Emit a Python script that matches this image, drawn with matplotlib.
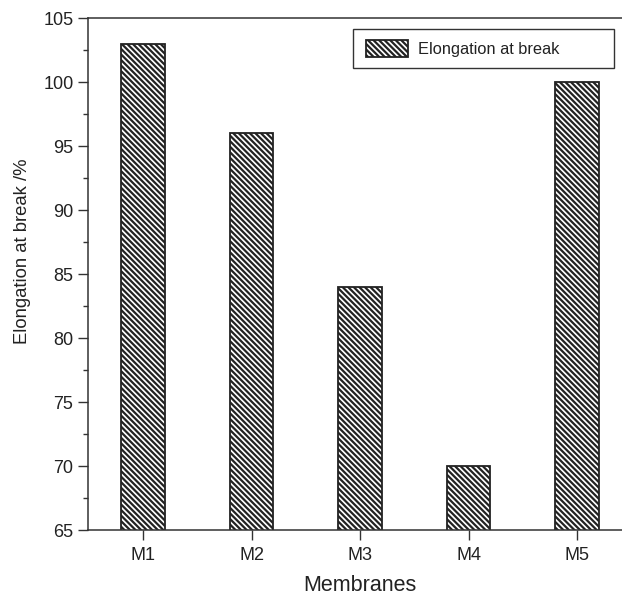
import matplotlib
matplotlib.use('Agg')
import matplotlib.pyplot as plt
from matplotlib.patches import Rectangle
from matplotlib.ticker import MultipleLocator

plt.rcParams['font.family'] = ['Liberation Sans', 'DejaVu Sans']
plt.rcParams['hatch.linewidth'] = 1.6

# Data
membranes = ['M1', 'M2', 'M3', 'M4', 'M5']
elongation = [103, 96, 84, 70, 100]

fig = plt.figure(figsize=(6.22, 5.96), dpi=100)
# axes run past the right edge, the original is cropped there
ax = fig.add_axes([0.1415, 0.1107, 0.8746, 0.859])

x = range(len(membranes))
ax.bar(x, elongation, width=0.4, bottom=0, color='white', edgecolor='#222222',
       linewidth=1.3, hatch='\\' * 6, label='Elongation at break', zorder=2)

ax.set_xlim(-0.507, 4.507)
ax.set_ylim(65, 105)
ax.set_xticks(list(x))
ax.set_xticklabels(membranes)
ax.yaxis.set_major_locator(MultipleLocator(5))
ax.yaxis.set_minor_locator(MultipleLocator(2.5))

ax.tick_params(axis='both', which='major', direction='out', length=7,
               width=1, labelsize=13, color='#333333', labelcolor='#222222')
ax.tick_params(axis='x', which='major', pad=5)
ax.tick_params(axis='y', which='major', pad=3.5)
ax.tick_params(axis='y', which='minor', direction='out', length=3.5, width=1,
               color='#333333')
for s in ax.spines.values():
    s.set_color('#333333')
    s.set_linewidth(1.1)

ax.set_xlabel('Membranes', fontsize=15.5, color='#222222')
ax.xaxis.set_label_coords(0.5, -0.088)
ax.set_ylabel('Elongation at break /%', fontsize=13.3, color='#222222')
ax.yaxis.set_label_coords(-0.105, 0.545)

leg = ax.legend(loc='center left', bbox_to_anchor=(0.511, 0.9414),
                fontsize=11.8, frameon=False, handlelength=2.56,
                handleheight=1.22, handletextpad=0.61, borderpad=0,
                borderaxespad=0)
for t in leg.get_texts():
    t.set_color('#222222')
# Origin-style legend box, wider than its contents
ax.add_patch(Rectangle((0.4871, 0.9023), 0.4798, 0.0762, transform=ax.transAxes,
                       facecolor='none', edgecolor='#333333', linewidth=1.0,
                       zorder=5))

fig.savefig('out.png', dpi=100)
print('Saved out.png')
